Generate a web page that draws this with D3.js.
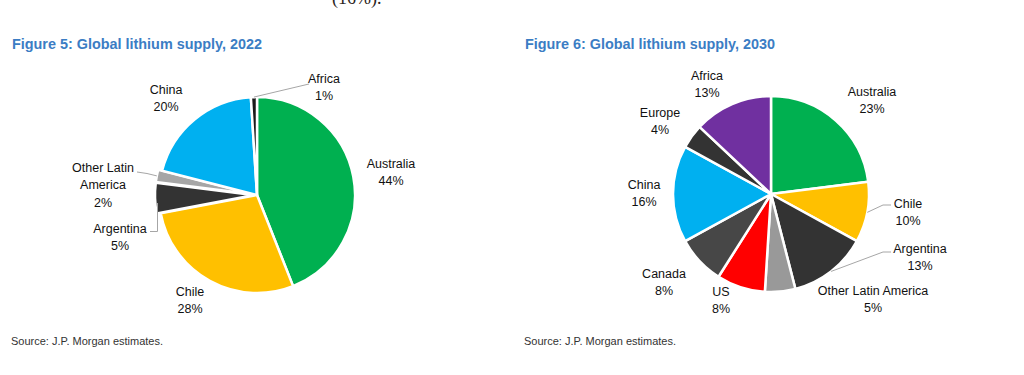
<!DOCTYPE html>
<html><head><meta charset="utf-8">
<script src="https://cdn.jsdelivr.net/npm/d3@7"></script>
<style>
body{margin:0;background:#fff;}
svg{display:block;font-family:"Liberation Sans",Arial,Helvetica,sans-serif;}
</style>
</head><body>
<svg id="c" width="1024" height="375"></svg>
<script>
// ---- data ----
const categories2022 = ["Australia","Chile","Argentina","Other Latin America","China","Africa"];
const values2022 = [44, 28, 5, 2, 20, 1];
const categories2030 = ["Australia","Chile","Argentina","Other Latin America","US","Canada","China","Europe","Africa"];
const values2030 = [23, 10, 13, 5, 8, 8, 16, 4, 13];
const titles = ["Figure 5: Global lithium supply, 2022", "Figure 6: Global lithium supply, 2030"];
const sourceText = "Source: J.P. Morgan estimates.";
const headText = "(16%).";

// ---- styles / layout ----
const colors2022 = {"Australia":"#00b050","Chile":"#ffc000","Argentina":"#333333","Other Latin America":"#a6a6a6","China":"#00b0f0","Africa":"#1a1a1a"};
const colors2030 = {"Australia":"#00b050","Chile":"#ffc000","Argentina":"#333333","Other Latin America":"#999999","US":"#ff0000","Canada":"#474747","China":"#00b0f0","Europe":"#333333","Africa":"#7030a0"};

const layouts = [
  {
    cats: categories2022, vals: values2022, colors: colors2022,
    cx: 257, cy: 195, r: 98, titleX: 12,
    explode: {"Argentina": 4, "Other Latin America": 4},
    labels: {
      "Australia": {dx: 134, dy: -32, lines: ["Australia"]},
      "Chile": {dx: -67, dy: 96, lines: ["Chile"]},
      "Argentina": {dx: -137, dy: 33, lines: ["Argentina"]},
      "Other Latin America": {dx: -154, dy: -28, lines: ["Other Latin", "America"]},
      "China": {dx: -91, dy: -106, lines: ["China"]},
      "Africa": {dx: 67, dy: -117, lines: ["Africa"]}
    },
    leaders: {
      "Africa": {pts: [[52, -111]], edge: true},
      "Other Latin America": {pts: [[-120, -23], [-110, -21.5]], edge: true},
      "Argentina": {pts: [[-107, 36.5], [-99.5, 36.5], [-99.5, 8]], edge: false}
    }
  },
  {
    cats: categories2030, vals: values2030, colors: colors2030,
    cx: 771, cy: 194, r: 98, titleX: 525,
    explode: {},
    labels: {
      "Australia": {dx: 101, dy: -103, lines: ["Australia"]},
      "Chile": {dx: 137, dy: 9, lines: ["Chile"]},
      "Argentina": {dx: 149, dy: 54, lines: ["Argentina"]},
      "Other Latin America": {dx: 102, dy: 96, lines: ["Other Latin America"]},
      "US": {dx: -50, dy: 97, lines: ["US"]},
      "Canada": {dx: -107, dy: 79, lines: ["Canada"]},
      "China": {dx: -127, dy: -10, lines: ["China"]},
      "Europe": {dx: -111, dy: -82, lines: ["Europe"]},
      "Africa": {dx: -64, dy: -119, lines: ["Africa"]}
    },
    leaders: {
      "Chile": {pts: [[120, 11], [112, 11]], edge: true},
      "Argentina": {pts: [[120, 58], [112, 58]], edge: true}
    }
  }
];

const svg = d3.select("#c");

// partially visible body text at top
svg.append("text").attr("x", 332).attr("y", 4)
  .attr("font-family", "'Liberation Serif','Times New Roman',serif")
  .attr("font-size", 18).attr("fill", "#2a2420").text(headText);

const lineH = 17.5;
const fontSize = 12.5;

layouts.forEach((L, idx) => {
  // title
  svg.append("text").attr("x", L.titleX).attr("y", 49)
    .attr("font-size", 14.4).attr("font-weight", "bold").attr("fill", "#3b7dc4")
    .text(titles[idx]);
  // source
  svg.append("text").attr("x", L.titleX - 1).attr("y", 344.5)
    .attr("font-size", 11).attr("fill", "#333333")
    .text(sourceText);

  const data = L.cats.map((c, i) => ({cat: c, val: L.vals[i]}));
  const pie = d3.pie().value(d => d.val).sort(null);
  const arcs = pie(data);
  const arc = d3.arc().innerRadius(0).outerRadius(L.r);
  const g = svg.append("g").attr("transform", `translate(${L.cx},${L.cy})`);

  g.selectAll("path").data(arcs).join("path")
    .attr("d", arc)
    .attr("transform", d => {
      const e = L.explode[d.data.cat] || 0;
      const a = (d.startAngle + d.endAngle) / 2;
      return `translate(${e * Math.sin(a)},${-e * Math.cos(a)})`;
    })
    .attr("fill", d => L.colors[d.data.cat])
    .attr("stroke", "#ffffff").attr("stroke-width", 2.5)
    .attr("stroke-linejoin", "round");

  // leader lines
  arcs.forEach(d => {
    const ld = L.leaders[d.data.cat];
    if (!ld) return;
    const pts = ld.pts.slice();
    if (ld.edge) {
      const e = L.explode[d.data.cat] || 0;
      const a = (d.startAngle + d.endAngle) / 2;
      const rr = L.r + e;
      pts.push([rr * Math.sin(a), -rr * Math.cos(a)]);
    }
    g.append("path").attr("d", d3.line()(pts))
      .attr("fill", "none").attr("stroke", "#a6a6a6").attr("stroke-width", 1);
  });

  // labels
  arcs.forEach(d => {
    const lb = L.labels[d.data.cat];
    const lines = lb.lines.concat([d.data.val + "%"]);
    const t = g.append("text").attr("text-anchor", "middle")
      .attr("font-size", fontSize).attr("fill", "#111111");
    lines.forEach((s, i) => {
      t.append("tspan").attr("x", lb.dx).attr("y", lb.dy + 4.5 + i * lineH).text(s);
    });
  });
});
</script>
</body></html>
